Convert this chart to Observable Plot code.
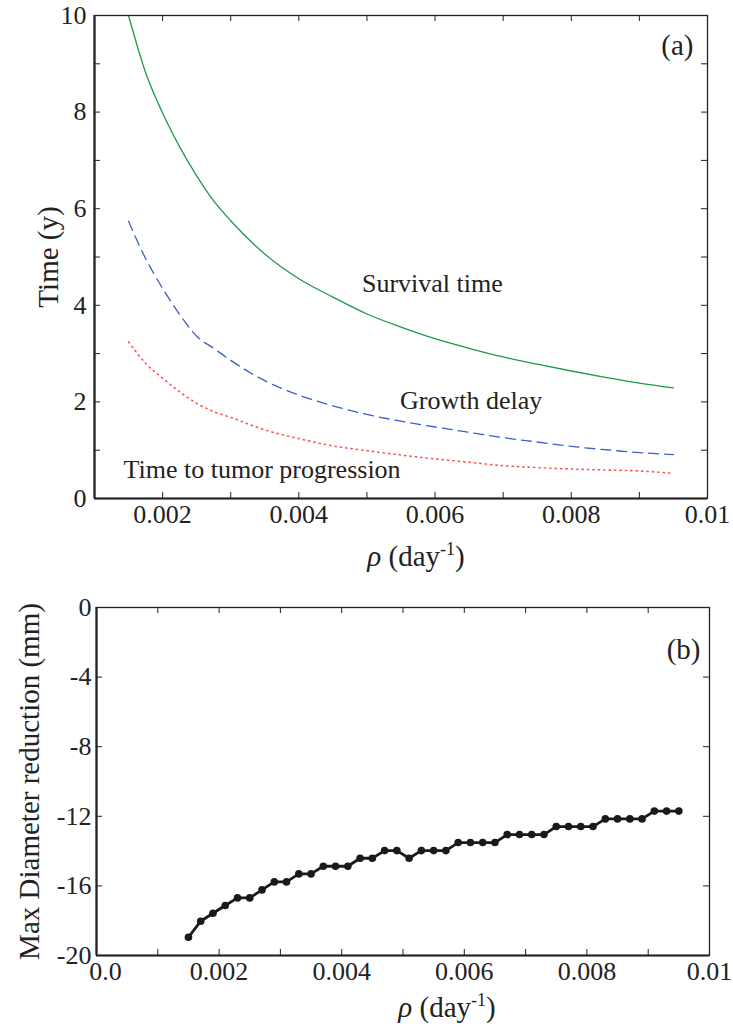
<!DOCTYPE html>
<html><head><meta charset="utf-8">
<script src="https://cdn.jsdelivr.net/npm/d3@7"></script>
<script src="https://cdn.jsdelivr.net/npm/@observablehq/plot@0.6"></script>
<style>body{margin:0;background:#fff} svg{display:block}</style>
</head><body><div id="chart"></div>
<script>
// ---- Panel (a) data ----
const rho = [0.0015,0.00175,0.002,0.00225,0.0025,0.00275,0.003,0.0035,0.004,0.0045,0.005,0.0055,0.006,0.0065,0.007,0.0075,0.008,0.0085,0.009,0.0095];
const survivalTime = [10.0,8.82,7.98,7.28,6.68,6.16,5.75,5.06,4.55,4.17,3.82,3.55,3.31,3.11,2.93,2.78,2.64,2.51,2.39,2.29];
const growthDelay = [5.74,4.97,4.35,3.81,3.36,3.11,2.86,2.44,2.14,1.92,1.74,1.60,1.48,1.37,1.26,1.17,1.08,1.01,0.95,0.91];
const timeToProgression = [3.24,2.80,2.49,2.21,1.97,1.80,1.68,1.42,1.24,1.09,0.99,0.90,0.82,0.75,0.68,0.64,0.61,0.59,0.57,0.52];
const seriesLabels = ["Survival time","Growth delay","Time to tumor progression"];
const labelRho = [0.00596,0.00653,0.00346];
const labelValue = [4.45,2.02,0.60];

const topXTicks = [0.002,0.004,0.006,0.008,0.01];
const topXMinor = [0.001,0.002,0.003,0.004,0.005,0.006,0.007,0.008,0.009,0.01];
const topYTicks = [0,2,4,6,8,10];
const topYMinor = [0,1,2,3,4,5,6,7,8,9,10];

// ---- Panel (b) data ----
const rhoB = [0.0015,0.0017,0.0019,0.0021,0.0023,0.0025,0.0027,0.0029,0.0031,0.0033,0.0035,0.0037,0.0039,0.0041,0.0043,0.0045,0.0047,0.0049,0.0051,0.0053,0.0055,0.0057,0.0059,0.0061,0.0063,0.0065,0.0067,0.0069,0.0071,0.0073,0.0075,0.0077,0.0079,0.0081,0.0083,0.0085,0.0087,0.0089,0.0091,0.0093,0.0095];
const maxDiameterReduction = [-18.95,-18.03,-17.57,-17.13,-16.69,-16.69,-16.23,-15.77,-15.77,-15.31,-15.31,-14.87,-14.87,-14.87,-14.41,-14.41,-13.97,-13.97,-14.41,-13.97,-13.97,-13.97,-13.51,-13.51,-13.51,-13.51,-13.05,-13.05,-13.05,-13.05,-12.59,-12.59,-12.59,-12.59,-12.15,-12.15,-12.15,-12.15,-11.70,-11.70,-11.70];
const botXTicks = [0.002,0.004,0.006,0.008,0.01];
const botXZeroLabel = ["0.0"];
const botXMinor = [0,0.001,0.002,0.003,0.004,0.005,0.006,0.007,0.008,0.009,0.01];
const botYTicks = [0,-4,-8,-12,-16,-20];

// ---- build tables ----
const topRows = rho.map((r,i)=>({rho:r, survival:survivalTime[i], delay:growthDelay[i], ttp:timeToProgression[i]}));
const annots = seriesLabels.map((t,i)=>({label:t, rho:labelRho[i], value:labelValue[i]}));
const botRows = rhoB.map((r,i)=>({rho:r, d:maxDiameterReduction[i]}));

const INK = "#222";
const FONT = '"Liberation Serif", "Times New Roman", serif';
const TL = 6; // tick length

function fmtX(d){ return d===0.01 ? "0.01" : d.toFixed(3); }

const topH = 580, topMT = 15, topMB = 82, topML = 94, topMR = 26;
const topIH = topH - topMT - topMB, topIW = 733 - topML - topMR;

const topPlot = Plot.plot({
  width: 733, height: topH,
  marginTop: topMT, marginBottom: topMB, marginLeft: topML, marginRight: topMR,
  style: {fontFamily: FONT, fontSize: "26px", color: INK, background: "white"},
  x: {domain: [0.001, 0.01], label: null},
  y: {domain: [0, 10], label: null},
  marks: [
    Plot.line(topRows, {x: "rho", y: "survival", stroke: "#1d9a4b", strokeWidth: 1.3, curve: "monotone-x"}),
    Plot.line(topRows, {x: "rho", y: "delay", stroke: "#3d5fc8", strokeWidth: 1.3, strokeDasharray: "10,6", curve: "monotone-x"}),
    Plot.line(topRows, {x: "rho", y: "ttp", stroke: "#ff5050", strokeWidth: 1.6, strokeDasharray: "1.2,4.2", curve: "monotone-x"}),
    Plot.tickX(topXMinor, {x: d=>d, insetTop: topIH - TL, stroke: INK, strokeWidth: 1}),
    Plot.tickX(topXMinor, {x: d=>d, insetBottom: topIH - TL, stroke: INK, strokeWidth: 1}),
    Plot.tickY(topYMinor, {y: d=>d, insetRight: topIW - TL, stroke: INK, strokeWidth: 1}),
    Plot.tickY(topYMinor, {y: d=>d, insetLeft: topIW - TL, stroke: INK, strokeWidth: 1}),
    Plot.frame({stroke: INK, strokeWidth: 1.3}),
    Plot.ruleX([0.001], {stroke: INK, strokeWidth: 2.2}),
    Plot.ruleY([0], {stroke: INK, strokeWidth: 2.2}),
    Plot.axisX(topXTicks, {tickSize: 0, tickPadding: 6, tickFormat: fmtX, label: null, fill: INK}),
    Plot.axisY(topYTicks, {tickSize: 0, tickPadding: 8, label: null, fill: INK}),
    Plot.text(annots, {x: "rho", y: "value", text: "label", fontSize: 26, fill: INK}),
    Plot.text(["Time (y)"], {frameAnchor: "left", textAnchor: "middle", lineAnchor: "middle", rotate: -90, dx: -46, fontSize: 29, fill: INK}),
    Plot.text(["ρ (day-1)"], {frameAnchor: "bottom", textAnchor: "middle", lineAnchor: "middle", dx: 15, dy: 58, fontSize: 29, fill: INK}),
    Plot.text(["(a)"], {frameAnchor: "top-right", textAnchor: "end", lineAnchor: "middle", dx: -14, dy: 30, fontSize: 29, fill: INK})
  ]
});

const botH = 449, botMT = 27, botMB = 74, botML = 96, botMR = 24;
const botIH = botH - botMT - botMB, botIW = 733 - botML - botMR;

const botPlot = Plot.plot({
  width: 733, height: botH,
  marginTop: botMT, marginBottom: botMB, marginLeft: botML, marginRight: botMR,
  style: {fontFamily: FONT, fontSize: "26px", color: INK, background: "white"},
  x: {domain: [0, 0.01], label: null},
  y: {domain: [-20, 0], label: null},
  marks: [
    Plot.line(botRows, {x: "rho", y: "d", stroke: "#1a1a1a", strokeWidth: 2.8}),
    Plot.dot(botRows, {x: "rho", y: "d", r: 3.8, fill: "#1a1a1a"}),
    Plot.tickX(botXMinor, {x: d=>d, insetTop: botIH - TL, stroke: INK, strokeWidth: 1}),
    Plot.tickX(botXMinor, {x: d=>d, insetBottom: botIH - TL, stroke: INK, strokeWidth: 1}),
    Plot.tickY(botYTicks, {y: d=>d, insetRight: botIW - TL, stroke: INK, strokeWidth: 1}),
    Plot.tickY(botYTicks, {y: d=>d, insetLeft: botIW - TL, stroke: INK, strokeWidth: 1}),
    Plot.frame({stroke: INK, strokeWidth: 1.3}),
    Plot.ruleX([0], {stroke: INK, strokeWidth: 2.2}),
    Plot.ruleY([-20], {stroke: INK, strokeWidth: 2.2}),
    Plot.axisX(botXTicks, {tickSize: 0, tickPadding: 6, tickFormat: fmtX, label: null, fill: INK}),
    Plot.text(botXZeroLabel, {x: () => 0, frameAnchor: "bottom", textAnchor: "middle", lineAnchor: "top", dx: 9, dy: 6, fontSize: 26, fill: INK}),
    Plot.axisY(botYTicks, {tickSize: 0, tickPadding: 5, tickFormat: d => String(d), label: null, fill: INK}),
    Plot.text(["Max Diameter reduction (mm)"], {frameAnchor: "left", textAnchor: "middle", lineAnchor: "middle", rotate: -90, dx: -67, fontSize: 29, fill: INK}),
    Plot.text(["ρ (day-1)"], {frameAnchor: "bottom", textAnchor: "middle", lineAnchor: "middle", dx: 44, dy: 52, fontSize: 29, fill: INK}),
    Plot.text(["(b)"], {frameAnchor: "top-right", textAnchor: "end", lineAnchor: "middle", dx: -9, dy: 42, fontSize: 29, fill: INK})
  ]
});

function superscriptRho(svg){
  const ns = "http://www.w3.org/2000/svg";
  svg.querySelectorAll("text").forEach(t => {
    if (t.textContent === "ρ (day-1)") {
      t.textContent = "";
      const parts = [
        {txt: "ρ", attrs: {"font-style": "italic"}},
        {txt: " (day", attrs: {}},
        {txt: "-1", attrs: {"font-size": "18", dy: "-11"}},
        {txt: ")", attrs: {dy: "11"}}
      ];
      parts.forEach(p => {
        const s = document.createElementNS(ns, "tspan");
        for (const k in p.attrs) s.setAttribute(k, p.attrs[k]);
        s.textContent = p.txt;
        t.appendChild(s);
      });
    }
  });
}
superscriptRho(topPlot);
superscriptRho(botPlot);

const chart = document.getElementById("chart");
chart.appendChild(topPlot);
chart.appendChild(botPlot);
</script>
</body></html>
